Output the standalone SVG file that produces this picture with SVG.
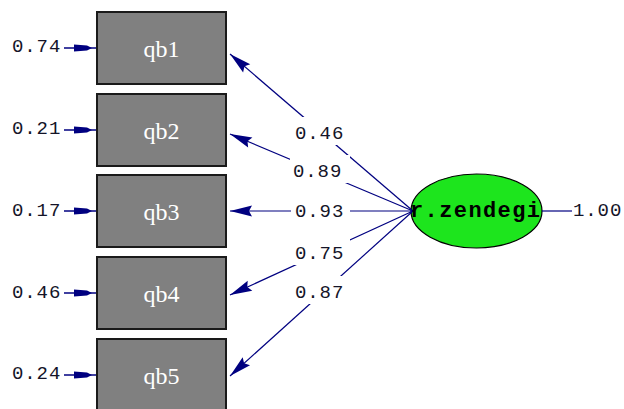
<svg xmlns="http://www.w3.org/2000/svg" width="624" height="409" viewBox="0 0 624 409">
  <defs>
    <style>
      .box { fill: #808080; stroke: #1a1a1a; stroke-width: 2; }
      .box-label { font-family: "Liberation Serif", "DejaVu Serif", serif; font-size: 24px; fill: #ffffff; text-anchor: middle; }
      .num { font-family: "Liberation Mono", "DejaVu Sans Mono", monospace; font-size: 19px; letter-spacing: 0.9px; fill: #141428; }
      .edge { stroke: #000080; stroke-width: 1.2; fill: none; }
      .err { stroke: #000080; stroke-width: 1.5; fill: none; }
      .pad { fill: #ffffff; }
      .latent { fill: #1de51d; stroke: #000000; stroke-width: 1.2; }
      .latent-label { font-family: "Liberation Mono", "DejaVu Sans Mono", monospace; font-size: 22px; font-weight: bold; fill: #000000; text-anchor: middle; }
    </style>
    <marker id="head" markerUnits="userSpaceOnUse" markerWidth="26" markerHeight="14" viewBox="-24 -7 26 14" refX="0" refY="0" orient="auto">
      <path d="M0,0 L-22,-5.5 L-19,0 L-22,5.5 z" fill="#000080"/>
    </marker>
    <marker id="errhead" markerUnits="userSpaceOnUse" markerWidth="24" markerHeight="10" viewBox="-22 -5 24 10" refX="0" refY="0" orient="auto">
      <path d="M-4,0 L-9,-2.5 L-22,-3.5 L-22,3.5 L-9,2.5 z" fill="#000080"/>
    </marker>
  </defs>

  <!-- observed indicators -->
  <g id="qb1"><rect class="box" x="97" y="12" width="129" height="72"/><text class="box-label" x="161.5" y="57">qb1</text></g>
  <g id="qb2"><rect class="box" x="97" y="94" width="129" height="72"/><text class="box-label" x="161.5" y="139">qb2</text></g>
  <g id="qb3"><rect class="box" x="97" y="175" width="129" height="72"/><text class="box-label" x="161.5" y="220">qb3</text></g>
  <g id="qb4"><rect class="box" x="97" y="257" width="129" height="72"/><text class="box-label" x="161.5" y="302">qb4</text></g>
  <g id="qb5"><rect class="box" x="97" y="339" width="129" height="72"/><text class="box-label" x="161.5" y="384">qb5</text></g>

  <!-- latent factor -->
  <g id="r-zendegi"><ellipse class="latent" cx="476.5" cy="211" rx="65.5" ry="37"/></g>

  <!-- connectors: error terms, loadings, factor variance -->
  <g id="connectors">
    <line class="err" x1="64" y1="48" x2="96" y2="48" marker-end="url(#errhead)"/>
    <line class="err" x1="64" y1="130" x2="96" y2="130" marker-end="url(#errhead)"/>
    <line class="err" x1="64" y1="211" x2="96" y2="211" marker-end="url(#errhead)"/>
    <line class="err" x1="64" y1="293" x2="96" y2="293" marker-end="url(#errhead)"/>
    <line class="err" x1="64" y1="375" x2="96" y2="375" marker-end="url(#errhead)"/>

    <line class="edge" x1="413" y1="211" x2="230" y2="54" marker-end="url(#head)"/>
    <line class="edge" x1="413" y1="211" x2="230" y2="134" marker-end="url(#head)"/>
    <line class="edge" x1="413" y1="211" x2="230" y2="211" marker-end="url(#head)"/>
    <line class="edge" x1="413" y1="211" x2="230" y2="295" marker-end="url(#head)"/>
    <line class="edge" x1="413" y1="211" x2="230" y2="376" marker-end="url(#head)"/>

    <line class="edge" x1="542" y1="211" x2="572" y2="211"/>
  </g>

  <!-- loading values, set on white so the paths break around them -->
  <g id="loadings">
    <rect class="pad" x="291" y="117" width="59" height="28"/><text class="num" x="295" y="139">0.46</text>
    <rect class="pad" x="290" y="155" width="60" height="28"/><text class="num" x="293" y="177">0.89</text>
    <rect class="pad" x="291" y="195" width="59" height="28"/><text class="num" x="295" y="217">0.93</text>
    <rect class="pad" x="291" y="237" width="59" height="28"/><text class="num" x="295" y="259">0.75</text>
    <rect class="pad" x="291" y="276" width="59" height="28"/><text class="num" x="295" y="298">0.87</text>
  </g>

  <!-- error variances -->
  <g id="errors">
    <text class="num" x="12" y="52">0.74</text>
    <text class="num" x="12" y="134">0.21</text>
    <text class="num" x="12" y="216">0.17</text>
    <text class="num" x="12" y="298">0.46</text>
    <text class="num" x="12" y="379">0.24</text>
  </g>

  <text class="latent-label" x="475" y="217" textLength="130" lengthAdjust="spacing">r.zendegi</text>
  <text class="num" x="573" y="216">1.00</text>
</svg>
